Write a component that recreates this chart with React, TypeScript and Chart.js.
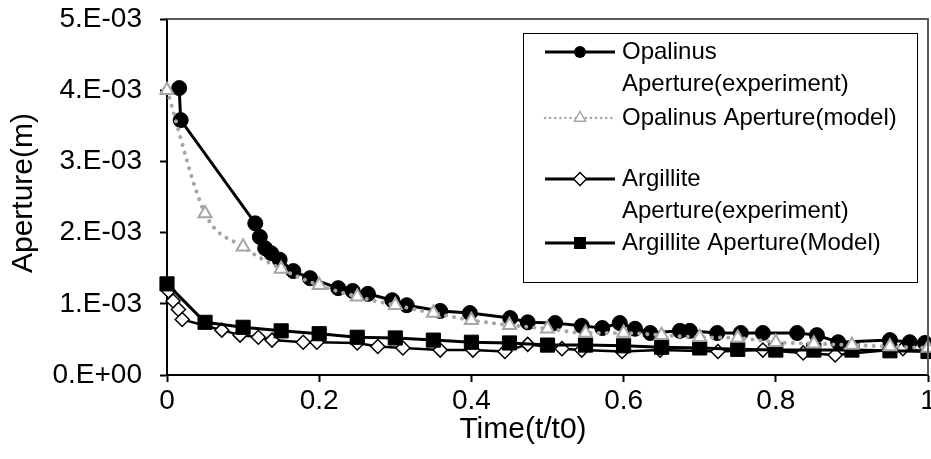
import React, { useEffect, useRef } from 'react';
import { Chart, registerables } from 'chart.js';

Chart.register(...registerables);

const FONT = "'Liberation Sans', Arial, Helvetica, sans-serif";
const Y_UNIT = 1e-3; // values below are in units of 1E-03 m

const opalExpX = [0.016, 0.018, 0.116, 0.122, 0.129, 0.137, 0.148, 0.166, 0.188, 0.225, 0.244, 0.264, 0.296, 0.315, 0.359, 0.398, 0.451, 0.474, 0.51, 0.545, 0.572, 0.595, 0.615, 0.635, 0.674, 0.687, 0.723, 0.754, 0.783, 0.828, 0.854, 0.882, 0.95, 0.976, 0.996];
const opalExpY = [4.03, 3.58, 2.13, 1.94, 1.78, 1.71, 1.62, 1.46, 1.36, 1.22, 1.18, 1.14, 1.05, 0.98, 0.9, 0.87, 0.8, 0.74, 0.73, 0.69, 0.66, 0.73, 0.65, 0.59, 0.62, 0.62, 0.59, 0.59, 0.59, 0.59, 0.56, 0.46, 0.49, 0.46, 0.45];

const opalModX = [0, 0.05, 0.1, 0.15, 0.2, 0.25, 0.3, 0.35, 0.4, 0.45, 0.5, 0.55, 0.6, 0.65, 0.7, 0.75, 0.8, 0.85, 0.9, 0.95, 1.0];
const opalModY = [4.0, 2.27, 1.8, 1.49, 1.26, 1.1, 0.98, 0.87, 0.77, 0.7, 0.65, 0.59, 0.59, 0.56, 0.53, 0.52, 0.46, 0.44, 0.42, 0.4, 0.38];

const argExpX = [0.002, 0.008, 0.015, 0.02, 0.072, 0.096, 0.12, 0.138, 0.179, 0.197, 0.25, 0.277, 0.31, 0.359, 0.402, 0.444, 0.474, 0.519, 0.545, 0.598, 0.648, 0.724, 0.783, 0.836, 0.878, 0.967, 1.0];
const argExpY = [1.18, 1.04, 0.92, 0.78, 0.63, 0.56, 0.53, 0.49, 0.46, 0.46, 0.45, 0.4, 0.38, 0.35, 0.35, 0.33, 0.43, 0.37, 0.35, 0.33, 0.35, 0.33, 0.35, 0.31, 0.28, 0.37, 0.33];

const argModX = [0, 0.05, 0.1, 0.15, 0.2, 0.25, 0.3, 0.35, 0.4, 0.45, 0.5, 0.55, 0.6, 0.65, 0.7, 0.75, 0.8, 0.85, 0.9, 0.95, 1.0];
const argModY = [1.28, 0.74, 0.67, 0.62, 0.58, 0.53, 0.52, 0.49, 0.46, 0.45, 0.42, 0.42, 0.41, 0.39, 0.38, 0.36, 0.35, 0.35, 0.35, 0.34, 0.33];

const yTickLabels = ['0.E+00', '1.E-03', '2.E-03', '3.E-03', '4.E-03', '5.E-03'];
const xTickLabels = ['0', '0.2', '0.4', '0.6', '0.8', '1'];
const xTitle = 'Time(t/t0)';
const yTitle = 'Aperture(m)';
const legendLabels = [
  ['Opalinus', 'Aperture(experiment)'],
  ['Opalinus Aperture(model)'],
  ['Argillite', 'Aperture(experiment)'],
  ['Argillite Aperture(Model)'],
];

const GRAY = '#a6a6a6';

const toPoints = (xs: number[], ys: number[]) => xs.map((x, i) => ({ x, y: ys[i] * Y_UNIT }));

function marker(ctx: CanvasRenderingContext2D, kind: string, x: number, y: number, r: number) {
  ctx.save();
  ctx.setLineDash([]);
  ctx.beginPath();
  if (kind === 'circle') {
    ctx.arc(x, y, r, 0, Math.PI * 2);
    ctx.fillStyle = '#000';
    ctx.fill();
  } else if (kind === 'triangle') {
    ctx.moveTo(x, y - r);
    ctx.lineTo(x + r * 0.866, y + r * 0.5);
    ctx.lineTo(x - r * 0.866, y + r * 0.5);
    ctx.closePath();
    ctx.fillStyle = '#fff';
    ctx.fill();
    ctx.strokeStyle = GRAY;
    ctx.lineWidth = 1.5;
    ctx.stroke();
  } else if (kind === 'diamond') {
    ctx.moveTo(x, y - r);
    ctx.lineTo(x + r, y);
    ctx.lineTo(x, y + r);
    ctx.lineTo(x - r, y);
    ctx.closePath();
    ctx.fillStyle = '#fff';
    ctx.fill();
    ctx.strokeStyle = '#000';
    ctx.lineWidth = 1.5;
    ctx.stroke();
  } else {
    ctx.rect(x - r, y - r, 2 * r, 2 * r);
    ctx.fillStyle = '#000';
    ctx.fill();
  }
  ctx.restore();
}

const decorPlugin = {
  id: 'decor',
  afterDraw(chart: any) {
    const ctx: CanvasRenderingContext2D = chart.ctx;
    const a = chart.chartArea;
    ctx.save();
    // frame top & right
    ctx.strokeStyle = '#5a5a5a';
    ctx.lineWidth = 2;
    ctx.beginPath();
    ctx.moveTo(a.left, a.top);
    ctx.lineTo(a.right, a.top);
    ctx.lineTo(a.right, a.bottom);
    ctx.stroke();

    // axis titles
    ctx.fillStyle = '#000';
    ctx.font = `30px ${FONT}`;
    ctx.textAlign = 'center';
    ctx.textBaseline = 'middle';
    ctx.fillText(xTitle, 523, 430);
    ctx.save();
    ctx.translate(24, 193);
    ctx.rotate(-Math.PI / 2);
    ctx.fillText(yTitle, 0, 0);
    ctx.restore();

    // legend
    const bx = 523.5, by = 33.5, bw = 394, bh = 249;
    ctx.fillStyle = '#fff';
    ctx.fillRect(bx, by, bw, bh);
    ctx.strokeStyle = '#000';
    ctx.lineWidth = 1;
    ctx.strokeRect(bx, by, bw, bh);

    const rows = [
      { y: 52, kind: 'circle', dotted: false },
      { y: 118, kind: 'triangle', dotted: true },
      { y: 179, kind: 'diamond', dotted: false },
      { y: 243, kind: 'square', dotted: false },
    ];
    const lineGap = 32;
    rows.forEach((row, i) => {
      ctx.save();
      ctx.beginPath();
      ctx.moveTo(545, row.y);
      ctx.lineTo(615, row.y);
      if (row.dotted) {
        ctx.strokeStyle = GRAY;
        ctx.lineWidth = 2.5;
        ctx.setLineDash([0.1, 5]);
        ctx.lineCap = 'round';
      } else {
        ctx.strokeStyle = '#000';
        ctx.lineWidth = 3;
      }
      ctx.stroke();
      ctx.restore();
      const r = row.kind === 'square' ? 6 : row.kind === 'circle' ? 6 : 6.5;
      marker(ctx, row.kind, 580, row.y, r);
      ctx.fillStyle = '#000';
      ctx.font = `24px ${FONT}`;
      ctx.textAlign = 'left';
      ctx.textBaseline = 'middle';
      legendLabels[i].forEach((t, j) => ctx.fillText(t, 622, row.y + j * lineGap));
    });
    ctx.restore();
  },
};

export default function App() {
  const ref = useRef<HTMLCanvasElement | null>(null);

  useEffect(() => {
    if (!ref.current) return;
    const chart = new Chart(ref.current, {
      type: 'line',
      data: {
        datasets: [
          {
            label: 'Opalinus Aperture(experiment)',
            data: toPoints(opalExpX, opalExpY),
            borderColor: '#000',
            borderWidth: 3,
            pointStyle: 'circle',
            pointRadius: 7.5,
            pointBackgroundColor: '#000',
            pointBorderColor: '#000',
            pointBorderWidth: 1,
            order: 3,
            clip: false,
          } as any,
          {
            label: 'Opalinus Aperture(model)',
            data: toPoints(opalModX, opalModY),
            borderColor: GRAY,
            borderWidth: 4,
            borderDash: [0.1, 8],
            borderCapStyle: 'round',
            cubicInterpolationMode: 'monotone',
            pointStyle: 'triangle',
            pointRadius: 7.5,
            pointBackgroundColor: '#fff',
            pointBorderColor: GRAY,
            pointBorderWidth: 2,
            order: 1,
            clip: false,
          } as any,
          {
            label: 'Argillite Aperture(experiment)',
            data: toPoints(argExpX, argExpY),
            borderColor: '#000',
            borderWidth: 2.5,
            pointStyle: 'rectRot',
            pointRadius: 7,
            pointBackgroundColor: '#fff',
            pointBorderColor: '#000',
            pointBorderWidth: 1.5,
            order: 4,
            clip: false,
          } as any,
          {
            label: 'Argillite Aperture(Model)',
            data: toPoints(argModX, argModY),
            borderColor: '#000',
            borderWidth: 3,
            pointStyle: 'rect',
            pointRadius: 10,
            pointBackgroundColor: '#000',
            pointBorderColor: '#000',
            pointBorderWidth: 1,
            order: 2,
            clip: false,
          } as any,
        ],
      },
      options: {
        responsive: false,
        animation: false,
        layout: { autoPadding: false, padding: { left: 0, right: 3, top: 19, bottom: 0 } },
        plugins: {
          legend: { display: false },
          tooltip: { enabled: false },
        },
        elements: { line: { tension: 0 } },
        scales: {
          x: {
            type: 'linear',
            min: 0,
            max: 1,
            ticks: {
              stepSize: 0.2,
              autoSkip: false,
              maxRotation: 0,
              padding: 2,
              color: '#000',
              font: { family: FONT, size: 28 },
              callback: (v: any) => xTickLabels[Math.round(Number(v) / 0.2)] ?? '',
            },
            grid: { drawOnChartArea: false, drawTicks: true, tickLength: 7, tickColor: '#000', tickWidth: 2 },
            border: { display: true, color: '#000', width: 2 },
            afterFit: (s: any) => {
              s.height = 84;
              s.paddingLeft = 0;
              s.paddingRight = 0;
              s.paddingTop = 0;
              s.paddingBottom = 0;
            },
          },
          y: {
            type: 'linear',
            min: 0,
            max: 5 * Y_UNIT,
            ticks: {
              stepSize: Y_UNIT,
              padding: 18,
              color: '#000',
              font: { family: FONT, size: 28 },
              callback: (v: any) => yTickLabels[Math.round(Number(v) / Y_UNIT)] ?? '',
            },
            grid: { drawOnChartArea: false, drawTicks: true, tickLength: 7, tickColor: '#000', tickWidth: 2 },
            border: { display: true, color: '#000', width: 2 },
            afterFit: (s: any) => {
              s.width = 167;
              s.paddingLeft = 0;
              s.paddingRight = 0;
              s.paddingTop = 0;
              s.paddingBottom = 0;
            },
          },
        },
      } as any,
      plugins: [decorPlugin],
    });
    return () => chart.destroy();
  }, []);

  return (
    <div style={{ position: 'fixed', left: 0, top: 0, width: 931, height: 459, background: '#fff' }}>
      <canvas ref={ref} width={931} height={459} />
    </div>
  );
}
